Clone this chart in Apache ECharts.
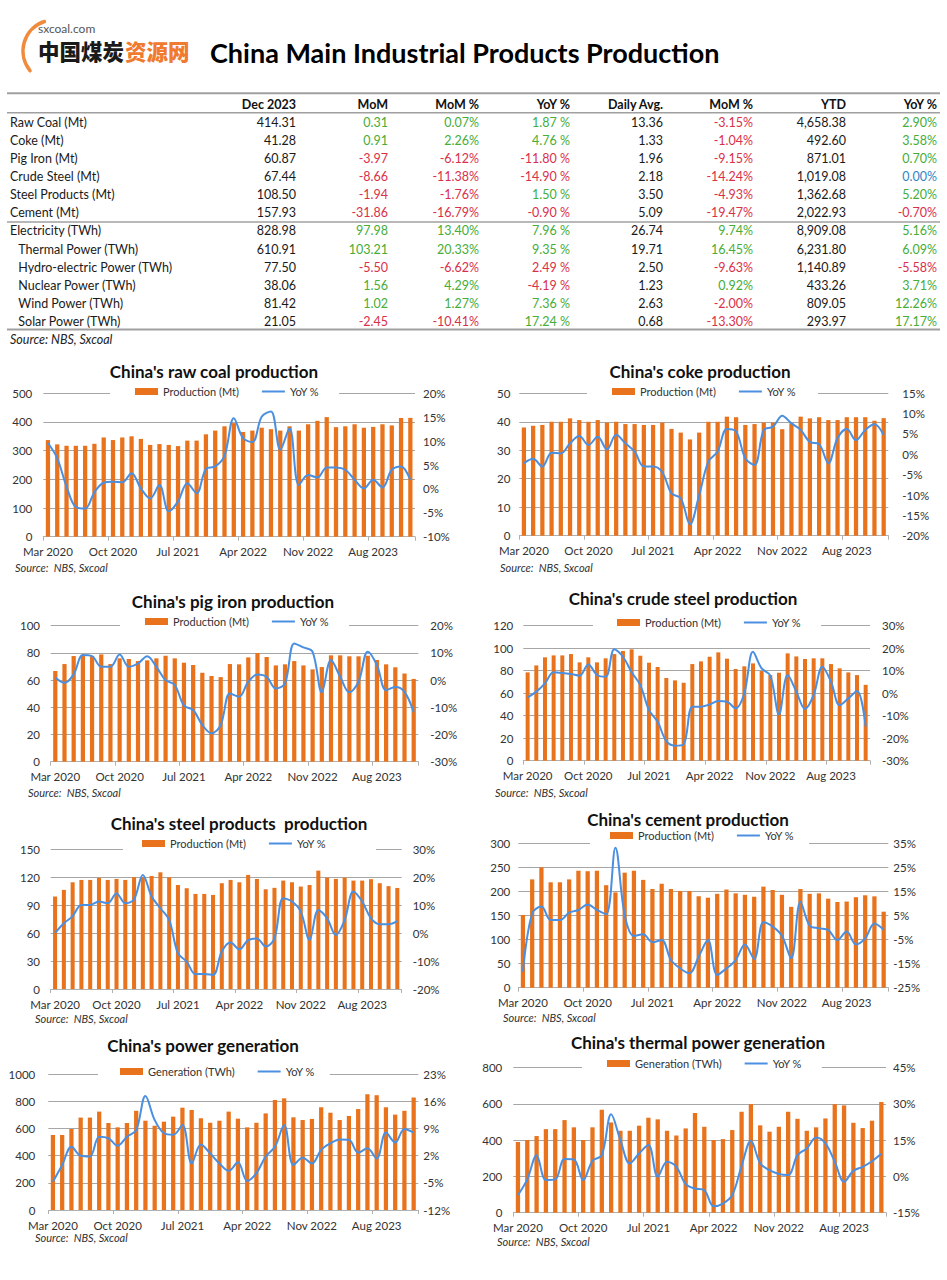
<!DOCTYPE html>
<html>
<head>
<meta charset="utf-8">
<script src="https://cdn.jsdelivr.net/npm/echarts@6/dist/echarts.min.js"></script>
<style>
html,body{margin:0;padding:0;background:#fff;}
#main{width:947px;height:1280px;}
</style>
</head>
<body>
<div id="main"></div>
<script>
// ---------- DATA ----------
const categories = ['Mar 2020','Apr 2020','May 2020','Jun 2020','Jul 2020','Aug 2020','Sep 2020','Oct 2020','Nov 2020','Dec 2020',
  'Mar 2021','Apr 2021','May 2021','Jun 2021','Jul 2021','Aug 2021','Sep 2021','Oct 2021','Nov 2021','Dec 2021',
  'Mar 2022','Apr 2022','May 2022','Jun 2022','Jul 2022','Aug 2022','Sep 2022','Oct 2022','Nov 2022','Dec 2022',
  'Mar 2023','Apr 2023','May 2023','Jun 2023','Jul 2023','Aug 2023','Sep 2023','Oct 2023','Nov 2023','Dec 2023'];

const rawCoalProd = [337,322,317,317,317,324,346,337,346,350, 341,320,323,320,316,335,335,357,370,385, 396,365,370,380,375,370,385,370,392,404, 417,382,385,392,380,383,392,388,414.0,414.31];
const rawCoalYoY = [9.6,6.4,0.5,-3.8,-4.1,-0.7,1.3,1.5,1.4,3.3, 0.1,-2.0,0.8,-4.7,-2.6,1.2,-0.9,4.2,4.7,6.9, 14.8,10.6,9.8,15.1,16.2,8.2,12.7,0.8,2.9,2.4, 4.5,4.5,4.0,1.9,0.1,1.9,0.3,4.0,4.7,1.87];

const cokeProd = [38.0,38.6,38.9,40.0,40.0,41.2,40.6,40.0,40.6,39.7, 40.0,39.2,39.2,38.9,38.9,39.7,37.5,36.2,33.8,36.2, 40.0,40.0,41.8,41.6,38.9,39.2,39.7,39.7,37.4,39.5, 41.8,41.2,41.6,40.6,40.6,41.6,41.6,41.6,40.37,41.28];
const cokeYoY = [-2.2,-1.1,-3.0,0.4,0.2,2.7,4.5,2.3,4.3,1.2, 4.8,2.7,0.7,-3.0,-3.0,-4.4,-9.6,-10.8,-17.2,-10.0, -1.8,0.7,6.2,5.6,-1.0,-2.6,6.0,6.8,9.5,7.6, 6.0,3.0,2.5,-2.2,4.0,6.2,3.5,6.0,7.4,4.76];

const pigIronProd = [66.7,71.8,77.7,78.4,77.7,78.9,71.8,76.0,75.5,74.0, 74.5,76.0,77.9,76.0,72.8,71.1,65.4,63.0,62.2,71.8, 71.6,76.7,80.0,77.0,70.8,71.6,74.0,70.8,67.9,69.6, 78.2,78.2,77.5,77.5,77.9,74.8,71.6,69.4,64.84,60.87];
const pigIronYoY = [1.0,-1.0,2.1,9.2,8.8,4.9,4.9,9.4,4.9,6.1, 8.8,4.9,0.0,-1.8,-9.4,-11.0,-16.5,-19.6,-16.5,-4.9, -6.1,-0.6,2.1,1.2,-3.1,-1.2,13.5,12.0,10.4,-4.5, 7.4,1.2,-4.5,-0.6,10.4,5.5,-3.7,-2.5,-4.3,-11.8];

const crudeSteelProd = [78.5,84.7,91.9,93.6,93.6,94.8,87.4,91.9,87.4,91.0, 94.8,97.5,99.0,93.3,87.1,83.3,73.5,71.4,69.3,85.9, 88.3,92.4,96.3,90.7,81.5,83.9,86.5,79.7,76.1,78.2, 95.4,92.7,90.4,91.0,91.0,85.9,82.1,78.5,76.1,67.44];
const crudeSteelYoY = [-1.9,0.7,4.4,9.3,9.0,8.5,7.8,12.8,8.1,7.3, 19.5,16.2,9.3,3.6,-7.5,-12.7,-21.3,-23.3,-22.7,-6.0, -6.0,-5.0,-3.5,-3.8,-6.7,0.0,18.4,11.0,7.8,-9.4, 8.1,0.7,-7.0,-0.8,11.8,5.1,-5.3,-2.3,1.0,-14.9];

const steelProductsProd = [99.3,106.4,114.6,117.1,117.1,119.3,117.1,118.2,117.1,120.0, 120.0,121.4,125.3,120.0,111.7,108.2,102.1,102.1,101.0,113.6, 117.1,114.6,122.5,118.2,107.1,108.6,116.4,114.6,110.0,111.7, 127.1,119.6,118.2,119.6,116.4,116.4,117.9,113.6,110.44,108.5];
const steelProductsYoY = [0.0,3.5,6.1,10.1,10.1,11.3,10.7,14.2,10.7,12.1, 20.8,13.1,8.9,4.7,-7.2,-10.2,-14.7,-14.6,-15.0,-6.6, -3.4,-5.8,-2.5,-1.9,-4.8,-1.9,12.5,11.3,7.7,-2.5, 8.3,5.3,-0.7,4.7,14.9,11.3,5.3,3.2,3.2,4.3];

const cementProd = [151,225,250,219,219,225,243,242,243,213, 198,239,243,224,205,216,205,201,201,190, 187,195,204,196,193,189,210,203,193,168, 205,195,196,185,178,179,188,192,189.79,157.93];
const cementYoY = [-18.3,5.9,8.7,3.1,3.1,6.2,7.3,9.6,7.3,5.5, 33.2,5.2,-3.5,-2.8,-6.1,-5.2,-13.5,-17.0,-19.0,-12.1, -5.2,-19.7,-17.0,-13.5,-7.0,-13.1,2.2,0.4,-3.4,-12.8, 10.7,0.8,-0.3,-1.0,-5.2,-1.7,-7.0,-4.5,1.7,-0.9];

const powerGen = [553,553,597,681,681,725,641,609,641,731, 658,621,651,688,754,737,676,643,658,725, 673,609,643,712,811,823,683,663,671,757, 717,663,693,744,853,846,757,703,731,828.98];
const powerYoY = [-4.7,-0.4,4.3,2.0,1.8,6.9,6.5,4.6,6.9,8.6, 17.4,11.2,7.8,7.4,9.9,0.0,4.9,2.6,0.0,-1.9, 0.3,-4.5,-2.5,1.8,4.3,9.9,-0.4,1.5,0.0,3.5, 5.2,6.2,6.1,2.8,3.9,1.3,8.0,5.4,8.9,7.96];

const thermalGen = [390,401,423,461,461,511,471,401,471,568, 498,452,452,480,524,515,452,426,465,550, 474,401,406,456,557,599,482,447,474,557, 518,452,471,520,599,592,496,467,507.7,610.91];
const thermalYoY = [-7.7,-1.2,8.8,-1.5,-1.2,7.2,7.0,-1.5,6.5,8.8, 25.7,15.0,5.4,9.5,13.0,-0.1,6.1,4.0,-3.2,-5.0, -5.7,-12.3,-11.2,-7.7,4.3,14.8,5.4,2.6,1.0,0.6, 8.8,11.6,16.1,13.7,6.1,-2.2,2.3,4.0,6.3,9.35];

// axis ranges [min, max, interval]
const rawCoalLeftAxis = [0,500,100], rawCoalRightAxis = [-10,20,5];
const cokeLeftAxis = [0,50,10], cokeRightAxis = [-20,15,5];
const pigIronLeftAxis = [0,100,20], pigIronRightAxis = [-30,20,10];
const crudeSteelLeftAxis = [0,120,20], crudeSteelRightAxis = [-30,30,10];
const steelProductsLeftAxis = [0,150,30], steelProductsRightAxis = [-20,30,10];
const cementLeftAxis = [0,300,50], cementRightAxis = [-25,35,10];
const powerLeftAxis = [0,1000,200], powerRightAxis = [-12,23,7];
const thermalLeftAxis = [0,800,200], thermalRightAxis = [-15,45,15];

// table
const tableHeaders = ['Dec 2023','MoM','MoM %','YoY %','Daily Avg.','MoM %','YTD','YoY %'];
const rowLabels = ['Raw Coal (Mt)','Coke (Mt)','Pig Iron (Mt)','Crude Steel (Mt)','Steel Products (Mt)','Cement (Mt)','Electricity (TWh)','Thermal Power (TWh)','Hydro-electric Power (TWh)','Nuclear Power (TWh)','Wind Power (TWh)','Solar Power (TWh)'];
const colDec2023 = ['414.31','41.28','60.87','67.44','108.50','157.93','828.98','610.91','77.50','38.06','81.42','21.05'];
const colMoM = ['0.31','0.91','-3.97','-8.66','-1.94','-31.86','97.98','103.21','-5.50','1.56','1.02','-2.45'];
const colMoMPct = ['0.07%','2.26%','-6.12%','-11.38%','-1.76%','-16.79%','13.40%','20.33%','-6.62%','4.29%','1.27%','-10.41%'];
const colYoYPct = ['1.87 %','4.76 %','-11.80 %','-14.90 %','1.50 %','-0.90 %','7.96 %','9.35 %','2.49 %','-4.19 %','7.36 %','17.24 %'];
const colDailyAvg = ['13.36','1.33','1.96','2.18','3.50','5.09','26.74','19.71','2.50','1.23','2.63','0.68'];
const colDailyMoMPct = ['-3.15%','-1.04%','-9.15%','-14.24%','-4.93%','-19.47%','9.74%','16.45%','-9.63%','0.92%','-2.00%','-13.30%'];
const colYTD = ['4,658.38','492.60','871.01','1,019.08','1,362.68','2,022.93','8,909.08','6,231.80','1,140.89','433.26','809.05','293.97'];
const colYTDYoY = ['2.90%','3.58%','0.70%','0.00%','5.20%','-0.70%','5.16%','6.09%','-5.58%','3.71%','12.26%','17.17%'];

// ---------- STYLE / LAYOUT ----------
const FONT = 'Lato, "Open Sans", sans-serif';
const BAR_COLOR = '#E8731C';
const LINE_COLOR = '#4a8fe0';
const GREEN = '#45ad38', RED = '#d9304a', BLUE = '#2f86c4';

const charts = [
  {title:"China's raw coal production", tx:214, ty:371, barName:'Production (Mt)', bars:rawCoalProd, yoy:rawCoalYoY, la:rawCoalLeftAxis, ra:rawCoalRightAxis,
   grid:{left:43.3, top:393.3, width:371.7, height:143.4}, lm:11, rm:8, lgLeft:110, lgY:393, padL:25, padR:20, src:[15,567]},
  {title:"China's coke production", tx:700, ty:371, barName:'Production (Mt)', bars:cokeProd, yoy:cokeYoY, la:cokeLeftAxis, ra:cokeRightAxis,
   grid:{left:519.3, top:393.3, width:369, height:142.4}, lm:9, rm:14, lgLeft:587, lgY:393, padL:25, padR:22, src:[500,567]},
  {title:"China's pig iron production", tx:233, ty:601, barName:'Production (Mt)', bars:pigIronProd, yoy:pigIronYoY, la:pigIronLeftAxis, ra:pigIronRightAxis,
   grid:{left:50.7, top:625.7, width:367.6, height:136}, lm:10.7, rm:12, lgLeft:120, lgY:623, padL:25, padR:20, src:[28,792]},
  {title:"China's crude steel production", tx:683, ty:598, barName:'Production (Mt)', bars:crudeSteelProd, yoy:crudeSteelYoY, la:crudeSteelLeftAxis, ra:crudeSteelRightAxis,
   grid:{left:523.3, top:625.7, width:346.7, height:135}, lm:10, rm:12, lgLeft:593, lgY:624, padL:24, padR:20, src:[495,792]},
  {title:"China's steel products  production", tx:239, ty:823, barName:'Production (Mt)', bars:steelProductsProd, yoy:steelProductsYoY, la:steelProductsLeftAxis, ra:steelProductsRightAxis,
   grid:{left:50.7, top:849.3, width:351, height:139.7}, lm:10.7, rm:11, lgLeft:123, lgY:845, padL:19, padR:50, src:[35,1018]},
  {title:"China's cement production", tx:688, ty:819, barName:'Production (Mt)', bars:cementProd, yoy:cementYoY, la:cementLeftAxis, ra:cementRightAxis,
   grid:{left:518.3, top:843.3, width:370, height:144.4}, lm:8, rm:5, lgLeft:590, lgY:837, padL:20, padR:15, src:[503,1017]},
  {title:"China's power generation", tx:203, ty:1045, barName:'Generation (TWh)', bars:powerGen, yoy:powerYoY, la:powerLeftAxis, ra:powerRightAxis,
   grid:{left:48.3, top:1074.3, width:370, height:135.7}, lm:13, rm:5, lgLeft:98, lgY:1073, padL:22, padR:15, src:[35,1237]},
  {title:"China's thermal power generation", tx:698, ty:1042, barName:'Generation (TWh)', bars:thermalGen, yoy:thermalYoY, la:thermalLeftAxis, ra:thermalRightAxis,
   grid:{left:513.3, top:1067.7, width:372.7, height:145}, lm:11, rm:7, lgLeft:582, lgY:1065, padL:25, padR:20, src:[497,1241]}
];

const grids = [], xAxes = [], yAxes = [], series = [], legends = [], graphics = [];

charts.forEach((c, i) => {
  grids.push(Object.assign({containLabel:false}, c.grid));
  xAxes.push({
    type:'category', gridIndex:i, data:categories, boundaryGap:true,
    axisLine:{show:true, lineStyle:{color:'#b0b0b0', width:1}},
    axisTick:{show:true, interval:6, alignWithLabel:false, length:4, lineStyle:{color:'#b0b0b0'}},
    axisLabel:{interval:6, fontSize:11.5, color:'#333', margin:9, fontFamily:FONT},
    splitLine:{show:false}
  });
  yAxes.push({
    type:'value', gridIndex:i, position:'left', min:c.la[0], max:c.la[1], interval:c.la[2],
    axisLine:{show:false}, axisTick:{show:false},
    splitLine:{show:true, lineStyle:{color:'#a6a6a6', width:1}},
    axisLabel:{fontSize:11.5, color:'#333', margin:c.lm, fontFamily:FONT, formatter:(v) => String(v)}
  });
  yAxes.push({
    type:'value', gridIndex:i, position:'right', min:c.ra[0], max:c.ra[1], interval:c.ra[2],
    axisLine:{show:false}, axisTick:{show:false}, splitLine:{show:false},
    axisLabel:{fontSize:11.5, color:'#333', margin:c.rm, fontFamily:FONT, formatter:'{value}%'}
  });
  series.push({
    type:'bar', name:c.barName, xAxisIndex:i, yAxisIndex:2*i, data:c.bars,
    barWidth:'46%', itemStyle:{color:BAR_COLOR}, z:2, animation:false
  });
  series.push({
    type:'line', name:'YoY %', xAxisIndex:i, yAxisIndex:2*i+1, data:c.yoy,
    smooth:0.35, symbol:'none', lineStyle:{width:2, color:LINE_COLOR}, itemStyle:{color:LINE_COLOR}, z:3, animation:false
  });
  legends.push({
    data:[{name:c.barName, icon:'rect'},
          {name:'YoY %', itemStyle:{color:'rgba(0,0,0,0)', opacity:0, borderWidth:0}}],
    left:c.lgLeft, top:c.lgY - 10, orient:'horizontal',
    itemWidth:23, itemHeight:7, itemGap:22,
    padding:[3, c.padR, 3, c.padL], backgroundColor:'#fff', selectedMode:false,
    textStyle:{fontSize:11, color:'#333', fontFamily:FONT}
  });
  graphics.push({type:'text', x:c.tx, y:c.ty, z:10,
    style:{text:c.title, fill:'#111', font:'bold 17px ' + FONT, align:'center', verticalAlign:'middle'}});
  graphics.push({type:'text', x:c.src[0], y:c.src[1], z:10,
    style:{text:'Source:  NBS, Sxcoal', fill:'#333', font:'italic 11px ' + FONT, align:'left', verticalAlign:'middle'}});
});

// ---------- HEADER ----------
graphics.push({type:'arc', z:5, shape:{cx:54, cy:51, r:31, startAngle:Math.PI*0.78, endAngle:Math.PI*1.40},
  style:{stroke:'#F08A3C', lineWidth:3.5, fill:null, lineCap:'round'}});
graphics.push({type:'text', x:38, y:28.5, z:10, style:{text:'sxcoal.com', fill:'#555', font:'12px ' + FONT, align:'left', verticalAlign:'middle'}});
graphics.push({type:'text', x:38, y:50, z:10, style:{text:'中国煤炭', fill:'#1a1a1a', font:'900 21.5px "Noto Sans CJK SC"', align:'left', verticalAlign:'middle'}});
graphics.push({type:'text', x:125, y:50, z:10, style:{text:'资源网', fill:'#F07A2E', font:'900 21.5px "Noto Sans CJK SC"', align:'left', verticalAlign:'middle'}});
graphics.push({type:'text', x:210, y:52, z:10, style:{text:'China Main Industrial Products Production', fill:'#000', font:'bold 27px ' + FONT, align:'left', verticalAlign:'middle'}});

// ---------- TABLE ----------
const colRight = [296, 388, 479, 570, 663, 753, 846, 937];
const tableCols = [colDec2023, colMoM, colMoMPct, colYoYPct, colDailyAvg, colDailyMoMPct, colYTD, colYTDYoY];
const coloredCols = [false, true, true, true, false, true, false, true];
const colorOverrides = {'8-3': RED};
function valueColor(txt) {
  const v = parseFloat(txt.replace(/,/g, ''));
  if (v === 0) return BLUE;
  return v < 0 ? RED : GREEN;
}
const headerY = 104, rowY0 = 122.3, rowStep = 18.1;
const lines = [[93.3, 2], [112.7, 1.5], [222, 1.5], [329.5, 2]];
lines.forEach(l => graphics.push({type:'line', z:5, shape:{x1:7, y1:l[0], x2:940, y2:l[0]}, style:{stroke:'#a0a0a0', lineWidth:l[1]}}));
tableHeaders.forEach((h, j) => graphics.push({type:'text', x:colRight[j], y:headerY, z:10,
  style:{text:h, fill:'#111', font:'bold 12.5px ' + FONT, align:'right', verticalAlign:'middle'}}));
rowLabels.forEach((lab, r) => {
  const y = rowY0 + rowStep * r;
  graphics.push({type:'text', x:(r >= 7 ? 18.3 : 10), y:y, z:10,
    style:{text:lab, fill:'#1a1a1a', font:'12.5px ' + FONT, align:'left', verticalAlign:'middle'}});
  tableCols.forEach((col, j) => {
    const txt = col[r];
    let fill = '#1a1a1a';
    if (coloredCols[j]) fill = colorOverrides[r + '-' + j] || valueColor(txt);
    graphics.push({type:'text', x:colRight[j], y:y, z:10,
      style:{text:txt, fill:fill, font:'12.5px ' + FONT, align:'right', verticalAlign:'middle'}});
  });
});
graphics.push({type:'text', x:10, y:339, z:10, style:{text:'Source: NBS, Sxcoal', fill:'#222', font:'italic 12.5px ' + FONT, align:'left', verticalAlign:'middle'}});

const chart = echarts.init(document.getElementById('main'), null, {renderer:'svg', width:947, height:1280});
chart.setOption({
  backgroundColor:'#ffffff',
  animation:false,
  textStyle:{fontFamily:FONT},
  grid:grids, xAxis:xAxes, yAxis:yAxes, series:series, legend:legends, graphic:graphics
});
</script>
</body>
</html>
